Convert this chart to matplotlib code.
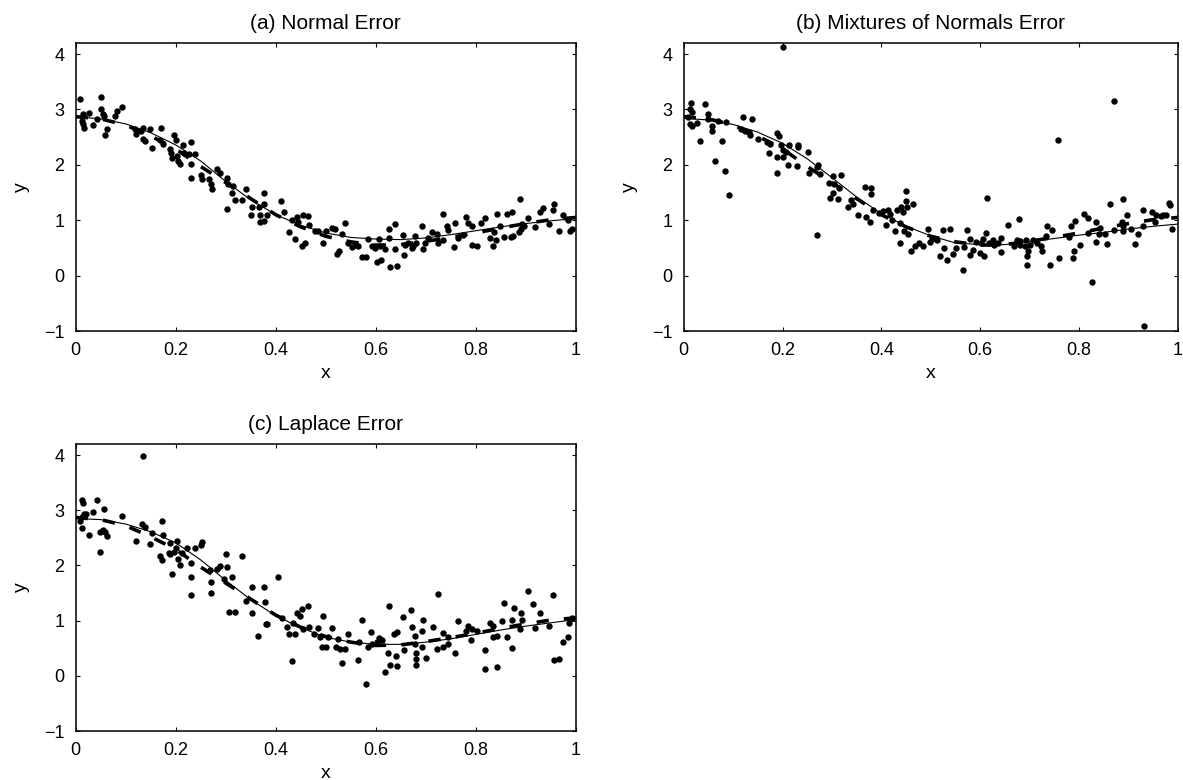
import matplotlib.pyplot as plt

plt.rcParams['font.family'] = ['Liberation Sans', 'DejaVu Sans']

# curve grid and curves
grid_x = [0.0, 0.05, 0.1, 0.15, 0.2, 0.25, 0.3, 0.35, 0.4, 0.45, 0.5,
          0.55, 0.6, 0.65, 0.7, 0.75, 0.8, 0.85, 0.9, 0.95, 1.0]
true_y = [2.87, 2.83, 2.72, 2.52, 2.29, 1.97, 1.68, 1.39, 1.10, 0.88, 0.71,
          0.61, 0.55, 0.56, 0.62, 0.69, 0.77, 0.86, 0.94, 1.01, 1.05]
fit_a = [2.87, 2.83, 2.74, 2.58, 2.36, 2.07, 1.70, 1.37, 1.10, 0.91, 0.77,
         0.69, 0.66, 0.65, 0.68, 0.74, 0.81, 0.88, 0.94, 0.99, 1.03]
fit_b = [2.84, 2.81, 2.73, 2.59, 2.39, 2.11, 1.77, 1.42, 1.12, 0.89, 0.72,
         0.59, 0.56, 0.56, 0.61, 0.67, 0.73, 0.78, 0.84, 0.89, 0.93]
fit_c = [2.85, 2.83, 2.75, 2.61, 2.41, 2.10, 1.73, 1.38, 1.09, 0.87, 0.70,
         0.61, 0.57, 0.57, 0.61, 0.67, 0.75, 0.83, 0.90, 0.96, 1.02]

# (a) normal error
a_x = [0.009, 0.050, 0.050, 0.092, 0.015, 0.027, 0.012, 0.015, 0.016, 0.035,
       0.043, 0.055, 0.057, 0.063, 0.059, 0.079, 0.083, 0.119, 0.121, 0.131,
       0.135, 0.134, 0.139, 0.149, 0.152, 0.170, 0.169, 0.174, 0.189, 0.190,
       0.192, 0.197, 0.201, 0.202, 0.205, 0.209, 0.214, 0.217, 0.227, 0.230,
       0.231, 0.231, 0.239, 0.251, 0.252, 0.267, 0.270, 0.272, 0.282, 0.289,
       0.302, 0.303, 0.312, 0.319, 0.315, 0.305,
       0.332, 0.340, 0.352, 0.351, 0.367, 0.369, 0.369, 0.377, 0.377, 0.377,
       0.383, 0.410, 0.417, 0.427, 0.432, 0.439, 0.442, 0.445, 0.455, 0.464,
       0.467, 0.452, 0.459, 0.479, 0.484, 0.495, 0.500, 0.512, 0.519, 0.532,
       0.539, 0.522, 0.527, 0.552, 0.565, 0.572, 0.580, 0.585, 0.602, 0.610,
       0.607, 0.627, 0.639, 0.627, 0.629, 0.642, 0.639, 0.655, 0.657, 0.545,
       0.559, 0.592, 0.599, 0.609, 0.619,
       0.659, 0.675, 0.672, 0.679, 0.681, 0.692, 0.695, 0.699, 0.713, 0.723,
       0.725, 0.735, 0.735, 0.742, 0.745, 0.759, 0.757, 0.765, 0.774, 0.781,
       0.785, 0.792, 0.792, 0.803, 0.810, 0.819, 0.829, 0.834, 0.837, 0.841,
       0.843, 0.849, 0.857, 0.862, 0.872, 0.870, 0.875, 0.889, 0.887, 0.890,
       0.892, 0.897, 0.905, 0.919, 0.929, 0.934, 0.947, 0.954, 0.957, 0.967,
       0.975, 0.985, 0.989, 0.992, 0.665, 0.705]
a_y = [3.18, 3.22, 3.01, 3.04, 2.92, 2.94, 2.80, 2.74, 2.67, 2.72,
       2.83, 2.92, 2.88, 2.64, 2.54, 2.88, 2.97, 2.64, 2.55, 2.61,
       2.66, 2.47, 2.43, 2.64, 2.31, 2.67, 2.44, 2.38, 2.29, 2.21,
       2.12, 2.53, 2.44, 2.16, 2.07, 2.01, 2.36, 2.22, 2.19, 2.01,
       2.41, 1.77, 2.19, 1.81, 1.74, 1.74, 1.65, 1.56, 1.92, 1.86,
       1.77, 1.21, 1.49, 1.36, 1.62, 1.65,
       1.36, 1.57, 1.23, 1.09, 1.23, 1.09, 0.96, 0.99, 1.50, 1.30,
       1.10, 1.34, 1.15, 0.78, 1.01, 0.66, 1.06, 0.96, 1.09, 1.07,
       0.92, 0.54, 0.59, 0.80, 0.80, 0.59, 0.80, 0.86, 0.84, 0.76,
       0.95, 0.39, 0.44, 0.52, 0.53, 0.33, 0.33, 0.66, 0.24, 0.28,
       0.66, 0.84, 0.93, 0.68, 0.15, 0.18, 0.48, 0.74, 0.38, 0.59,
       0.56, 0.54, 0.50, 0.53, 0.48,
       0.56, 0.54, 0.50, 0.71, 0.59, 0.90, 0.48, 0.59, 0.78, 0.76,
       0.58, 0.64, 1.12, 0.90, 0.83, 0.95, 0.51, 0.68, 0.74, 1.05,
       0.95, 0.90, 0.56, 0.53, 0.95, 1.04, 0.68, 0.54, 0.78, 0.65,
       1.12, 0.90, 0.70, 1.12, 1.14, 0.70, 0.72, 1.38, 0.78, 0.84,
       0.93, 0.90, 1.04, 0.87, 1.14, 1.22, 0.93, 1.19, 1.30, 0.80,
       1.10, 1.00, 0.80, 0.84, 0.59, 0.68]

# (b) mixtures of normals error
b_x = [0.201, 0.015, 0.012, 0.017, 0.009, 0.012, 0.017, 0.027, 0.043, 0.049,
       0.050, 0.057, 0.057, 0.034, 0.063, 0.077, 0.083, 0.092, 0.121, 0.139,
       0.132, 0.135, 0.150, 0.172, 0.189, 0.192, 0.189, 0.189, 0.197, 0.201,
       0.202, 0.207, 0.212, 0.214, 0.229, 0.231, 0.232, 0.252, 0.254, 0.269,
       0.272, 0.270, 0.275, 0.295, 0.302, 0.303, 0.305, 0.315, 0.319, 0.312,
       0.297, 0.169, 0.175, 0.069, 0.085, 0.115, 0.125,
       0.339, 0.332, 0.342, 0.352, 0.367, 0.379, 0.379, 0.369, 0.377, 0.383,
       0.395, 0.404, 0.413, 0.417, 0.409, 0.422, 0.427, 0.432, 0.440, 0.444,
       0.451, 0.449, 0.453, 0.464, 0.437, 0.437, 0.445, 0.455, 0.460, 0.468,
       0.477, 0.484, 0.495, 0.499, 0.502, 0.513, 0.519, 0.524, 0.527, 0.532,
       0.540, 0.545, 0.552, 0.565, 0.567, 0.573, 0.579, 0.580, 0.585, 0.592,
       0.600, 0.607, 0.602, 0.605, 0.611, 0.613, 0.619, 0.627, 0.629, 0.637,
       0.642, 0.643, 0.657,
       0.679, 0.669, 0.675, 0.681, 0.681, 0.690, 0.692, 0.697, 0.695, 0.695,
       0.701, 0.707, 0.715, 0.723, 0.725, 0.735, 0.734, 0.742, 0.745, 0.757,
       0.759, 0.779, 0.785, 0.789, 0.790, 0.792, 0.802, 0.810, 0.819, 0.819,
       0.827, 0.835, 0.835, 0.841, 0.843, 0.852, 0.857, 0.862, 0.872, 0.872,
       0.887, 0.890, 0.890, 0.897, 0.890, 0.905, 0.914, 0.919, 0.929, 0.929,
       0.932, 0.947, 0.954, 0.957, 0.970, 0.977, 0.982, 0.985, 0.989, 0.967]
b_y = [4.13, 3.12, 3.01, 2.95, 2.86, 2.73, 2.71, 2.76, 3.09, 2.91,
       2.83, 2.71, 2.62, 2.43, 2.07, 2.43, 1.89, 1.45, 2.86, 2.83,
       2.59, 2.54, 2.47, 2.21, 2.58, 2.52, 2.15, 1.86, 2.35, 2.26,
       2.14, 2.24, 2.00, 2.36, 1.98, 2.36, 2.32, 2.23, 1.86, 1.97,
       2.00, 0.73, 1.83, 1.67, 1.80, 1.50, 1.65, 1.59, 1.82, 1.38,
       1.41, 2.41, 2.38, 2.80, 2.77, 2.65, 2.62,
       1.36, 1.23, 1.29, 1.10, 1.60, 1.58, 1.47, 1.06, 0.96, 1.19,
       1.13, 1.16, 1.19, 1.12, 0.92, 1.01, 0.80, 1.18, 1.24, 1.15,
       1.53, 1.35, 1.24, 1.29, 0.58, 0.95, 0.81, 0.76, 0.45, 0.53,
       0.58, 0.53, 0.85, 0.61, 0.66, 0.64, 0.35, 0.83, 0.50, 0.29,
       0.85, 0.39, 0.50, 0.10, 0.51, 0.83, 0.66, 0.38, 0.47, 0.61,
       0.41, 0.35, 0.59, 0.66, 0.77, 1.41, 0.59, 0.64, 0.56, 0.59,
       0.68, 0.42, 0.92,
       1.03, 0.53, 0.64, 0.62, 0.56, 0.54, 0.64, 0.44, 0.36, 0.19,
       0.56, 0.64, 0.59, 0.54, 0.44, 0.89, 0.72, 0.19, 0.82, 2.45,
       0.32, 0.70, 0.89, 0.32, 0.44, 0.99, 0.56, 1.12, 1.04, 0.77,
       -0.11, 0.96, 0.61, 0.75, 0.86, 0.76, 0.57, 1.29, 3.16, 0.83,
       0.96, 1.39, 0.89, 1.10, 0.81, 0.84, 0.57, 0.76, 1.18, 0.89,
       -0.91, 1.14, 0.97, 1.10, 1.09, 1.10, 1.31, 1.27, 0.84, 1.07]

# (c) laplace error
c_x = [0.135, 0.012, 0.015, 0.043, 0.057, 0.017, 0.021, 0.012, 0.009, 0.012,
       0.035, 0.027, 0.049, 0.055, 0.059, 0.063, 0.049, 0.092, 0.132, 0.139,
       0.120, 0.149, 0.152, 0.172, 0.175, 0.169, 0.172, 0.189, 0.187, 0.192,
       0.189, 0.197, 0.202, 0.201, 0.205, 0.209, 0.212, 0.223, 0.230, 0.231,
       0.231, 0.239, 0.252, 0.250, 0.269, 0.270, 0.271, 0.282, 0.289, 0.301,
       0.302, 0.312, 0.297, 0.307, 0.319,
       0.332, 0.340, 0.352, 0.352, 0.365, 0.377, 0.379, 0.380, 0.383, 0.404,
       0.412, 0.422, 0.427, 0.432, 0.435, 0.439, 0.442, 0.449, 0.452, 0.455,
       0.464, 0.467, 0.477, 0.484, 0.489, 0.495, 0.493, 0.500, 0.505, 0.513,
       0.520, 0.524, 0.529, 0.532, 0.539, 0.545, 0.565, 0.567, 0.573, 0.580,
       0.584, 0.591, 0.592, 0.602, 0.607, 0.612, 0.619, 0.625, 0.627, 0.629,
       0.637, 0.641, 0.642, 0.642, 0.655, 0.657,
       0.670, 0.673, 0.679, 0.679, 0.681, 0.681, 0.681, 0.692, 0.692, 0.695,
       0.700, 0.715, 0.725, 0.723, 0.734, 0.735, 0.745, 0.745, 0.759, 0.765,
       0.781, 0.785, 0.790, 0.792, 0.802, 0.819, 0.819, 0.829, 0.835, 0.835,
       0.842, 0.843, 0.852, 0.857, 0.863, 0.872, 0.877, 0.872, 0.890, 0.889,
       0.892, 0.905, 0.914, 0.919, 0.929, 0.947, 0.954, 0.957, 0.967, 0.975,
       0.985, 0.987, 0.992]
c_y = [3.98, 3.18, 3.14, 3.19, 3.03, 2.93, 2.94, 2.88, 2.81, 2.67,
       2.96, 2.55, 2.61, 2.64, 2.61, 2.53, 2.24, 2.89, 2.75, 2.69,
       2.44, 2.38, 2.58, 2.81, 2.56, 2.17, 2.09, 2.40, 2.23, 1.84,
       2.20, 2.25, 2.45, 2.31, 2.11, 2.00, 2.23, 2.32, 2.05, 1.79,
       1.47, 2.31, 2.43, 2.37, 1.91, 1.70, 1.50, 1.93, 1.99, 2.20,
       1.97, 1.79, 1.75, 1.15, 1.15,
       2.17, 1.36, 1.61, 1.13, 0.73, 1.61, 1.34, 0.94, 0.94, 1.79,
       1.05, 0.88, 0.75, 0.27, 0.96, 0.75, 1.14, 1.08, 1.21, 0.84,
       1.27, 0.88, 0.76, 0.87, 0.71, 1.09, 0.53, 0.53, 0.70, 0.87,
       0.53, 0.67, 0.48, 0.23, 0.49, 0.76, 0.29, 0.61, 1.02, -0.15,
       0.53, 0.79, 0.57, 0.62, 0.68, 0.65, 0.07, 0.42, 1.27, 0.19,
       0.76, 0.35, 0.17, 0.79, 1.06, 0.47,
       1.19, 0.88, 0.73, 0.58, 0.41, 0.30, 0.20, 0.81, 0.52, 1.01,
       0.32, 0.88, 1.49, 0.49, 0.53, 0.78, 0.58, 0.70, 0.41, 1.00,
       0.82, 0.91, 0.65, 0.84, 0.81, 0.46, 0.12, 0.96, 0.90, 0.70,
       0.73, 0.16, 0.99, 1.32, 0.71, 0.51, 1.23, 1.02, 1.14, 0.85,
       1.02, 1.53, 1.31, 0.87, 1.14, 0.91, 1.47, 0.28, 0.30, 0.62,
       0.71, 0.95, 1.05]

W, H = 1183, 780
panels = [
    ("(a) Normal Error", a_x, a_y, fit_a, [75.7 / W, (H - 331) / H, 500 / W, 288 / H]),
    ("(b) Mixtures of Normals Error", b_x, b_y, fit_b, [683.7 / W, (H - 331) / H, 494 / W, 288 / H]),
    ("(c) Laplace Error", c_x, c_y, fit_c, [75.7 / W, (H - 731) / H, 500 / W, 287 / H]),
]

fig = plt.figure(figsize=(W / 100, H / 100), dpi=100)

for title, px, py, fit, rect in panels:
    ax = fig.add_axes(rect)
    ax.plot(px, py, 'o', color='black', markersize=4.6, markeredgewidth=0)
    ax.plot(grid_x, true_y, color='black', lw=2.6, ls=(0, (3.4, 4.2)))
    ax.plot(grid_x, fit, color='black', lw=0.8)
    ax.set_xlim(0, 1)
    ax.set_ylim(-1, 4.2)
    ax.set_xticks([0, 0.2, 0.4, 0.6, 0.8, 1])
    ax.set_xticklabels(['0', '0.2', '0.4', '0.6', '0.8', '1'])
    ax.set_yticks([-1, 0, 1, 2, 3, 4])
    ax.tick_params(direction='in', top=True, right=True, length=3,
                   width=0.8, labelsize=13, pad=8)
    for s in ax.spines.values():
        s.set_linewidth(1.1)
    ax.set_title(title, fontsize=15, pad=10)
    ax.set_xlabel('x', fontsize=14, labelpad=4)
    ax.set_ylabel('y', fontsize=14, labelpad=10)

fig.savefig('out.png', dpi=100)
